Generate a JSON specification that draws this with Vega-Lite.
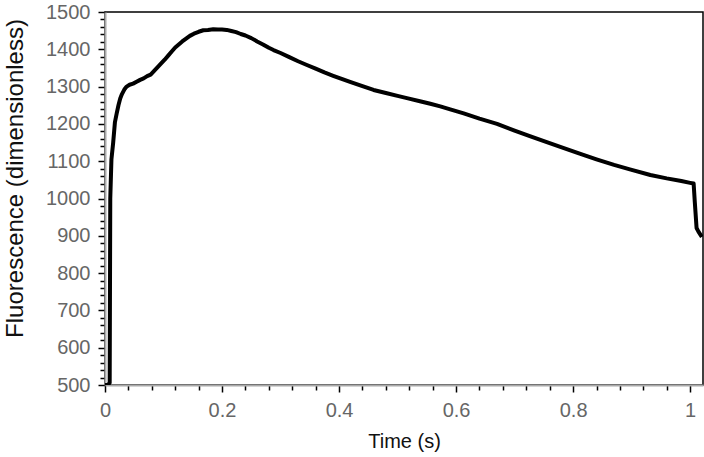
{
  "$schema": "https://vega.github.io/schema/vega-lite/v6.json",
  "width": 598,
  "height": 373,
  "autosize": "none",
  "padding": {"left": 105, "top": 12, "right": 1, "bottom": 72},
  "background": "white",
  "config": {
    "view": {"stroke": "black", "strokeWidth": 1.5},
    "font": "Liberation Sans"
  },
  "data": {
    "values": [
      {"t": 0, "v": 500}, {"t": 0.005, "v": 500}, {"t": 0.008, "v": 506},
      {"t": 0.009, "v": 1000}, {"t": 0.011, "v": 1105}, {"t": 0.014, "v": 1150},
      {"t": 0.017, "v": 1205}, {"t": 0.020, "v": 1228}, {"t": 0.023, "v": 1250},
      {"t": 0.026, "v": 1268}, {"t": 0.029, "v": 1280}, {"t": 0.033, "v": 1292},
      {"t": 0.037, "v": 1300}, {"t": 0.042, "v": 1305}, {"t": 0.048, "v": 1308},
      {"t": 0.054, "v": 1313}, {"t": 0.060, "v": 1318}, {"t": 0.066, "v": 1322},
      {"t": 0.072, "v": 1328}, {"t": 0.078, "v": 1332}, {"t": 0.084, "v": 1342},
      {"t": 0.090, "v": 1352}, {"t": 0.096, "v": 1362}, {"t": 0.102, "v": 1372},
      {"t": 0.108, "v": 1383}, {"t": 0.114, "v": 1394}, {"t": 0.120, "v": 1405},
      {"t": 0.126, "v": 1413}, {"t": 0.132, "v": 1421}, {"t": 0.138, "v": 1428},
      {"t": 0.145, "v": 1436}, {"t": 0.152, "v": 1442}, {"t": 0.160, "v": 1447},
      {"t": 0.168, "v": 1451}, {"t": 0.176, "v": 1452}, {"t": 0.185, "v": 1454},
      {"t": 0.193, "v": 1453}, {"t": 0.200, "v": 1453}, {"t": 0.208, "v": 1452},
      {"t": 0.216, "v": 1449}, {"t": 0.224, "v": 1446}, {"t": 0.232, "v": 1441},
      {"t": 0.240, "v": 1437}, {"t": 0.250, "v": 1430}, {"t": 0.260, "v": 1421},
      {"t": 0.270, "v": 1413}, {"t": 0.280, "v": 1404}, {"t": 0.288, "v": 1398},
      {"t": 0.300, "v": 1390}, {"t": 0.315, "v": 1379}, {"t": 0.330, "v": 1368},
      {"t": 0.345, "v": 1358}, {"t": 0.360, "v": 1348}, {"t": 0.375, "v": 1338},
      {"t": 0.390, "v": 1329}, {"t": 0.402, "v": 1322}, {"t": 0.420, "v": 1312},
      {"t": 0.440, "v": 1301}, {"t": 0.459, "v": 1291}, {"t": 0.480, "v": 1283},
      {"t": 0.500, "v": 1275}, {"t": 0.516, "v": 1269}, {"t": 0.540, "v": 1260},
      {"t": 0.556, "v": 1254}, {"t": 0.573, "v": 1247}, {"t": 0.590, "v": 1239},
      {"t": 0.613, "v": 1228}, {"t": 0.640, "v": 1214}, {"t": 0.670, "v": 1200},
      {"t": 0.700, "v": 1182}, {"t": 0.726, "v": 1167}, {"t": 0.755, "v": 1151},
      {"t": 0.783, "v": 1136}, {"t": 0.810, "v": 1121}, {"t": 0.840, "v": 1105},
      {"t": 0.870, "v": 1090}, {"t": 0.897, "v": 1078}, {"t": 0.932, "v": 1063},
      {"t": 0.960, "v": 1054}, {"t": 0.985, "v": 1047}, {"t": 1.000, "v": 1042},
      {"t": 1.006, "v": 1040}, {"t": 1.008, "v": 990}, {"t": 1.011, "v": 921},
      {"t": 1.014, "v": 912}, {"t": 1.020, "v": 897}
    ]
  },
  "mark": {"type": "line", "color": "black", "strokeWidth": 4, "strokeJoin": "round", "clip": true},
  "encoding": {
    "x": {
      "field": "t", "type": "quantitative",
      "scale": {"domain": [0, 1.022], "nice": false, "zero": false},
      "axis": {
        "title": "Time (s)",
        "values": [0, 0.04, 0.08, 0.12, 0.16, 0.2, 0.24, 0.28, 0.32, 0.36, 0.4, 0.44, 0.48, 0.52, 0.56, 0.6, 0.64, 0.68, 0.72, 0.76, 0.8, 0.84, 0.88, 0.92, 0.96, 1.0],
        "labelExpr": "abs(datum.value*5 - round(datum.value*5)) < 0.001 ? format(datum.value, '~g') : ''",
        "labelOverlap": false,
        "labelFlush": false,
        "labelFontSize": 20, "labelColor": "#666666", "labelPadding": 8,
        "titleFontSize": 20, "titleFontWeight": "normal", "titleColor": "#111111", "titlePadding": 11,
        "domainColor": "#aaaaaa", "domainWidth": 2,
        "tickColor": "black", "tickWidth": 1.5,
        "tickSize": {"condition": {"test": "abs(datum.value*5 - round(datum.value*5)) < 0.001", "value": 7}, "value": 5},
        "grid": false
      }
    },
    "y": {
      "field": "v", "type": "quantitative",
      "scale": {"domain": [500, 1500], "nice": false, "zero": false},
      "axis": {
        "title": "Fluorescence (dimensionless)",
        "titleY": 166,
        "values": [500, 520, 540, 560, 580, 600, 620, 640, 660, 680, 700, 720, 740, 760, 780, 800, 820, 840, 860, 880, 900, 920, 940, 960, 980, 1000, 1020, 1040, 1060, 1080, 1100, 1120, 1140, 1160, 1180, 1200, 1220, 1240, 1260, 1280, 1300, 1320, 1340, 1360, 1380, 1400, 1420, 1440, 1460, 1480, 1500],
        "labelExpr": "datum.value % 100 === 0 ? format(datum.value, 'd') : ''",
        "labelOverlap": false,
        "labelFlush": false,
        "labelFontSize": 20, "labelColor": "#666666", "labelPadding": 8,
        "titleFontSize": 24, "titleFontWeight": "normal", "titleColor": "#111111", "titlePadding": 18,
        "domainColor": "#aaaaaa", "domainWidth": 2,
        "tickColor": "black", "tickWidth": 1.5,
        "tickSize": {"condition": {"test": "datum.value % 100 === 0", "value": 7}, "value": 5},
        "grid": false
      }
    }
  }
}
